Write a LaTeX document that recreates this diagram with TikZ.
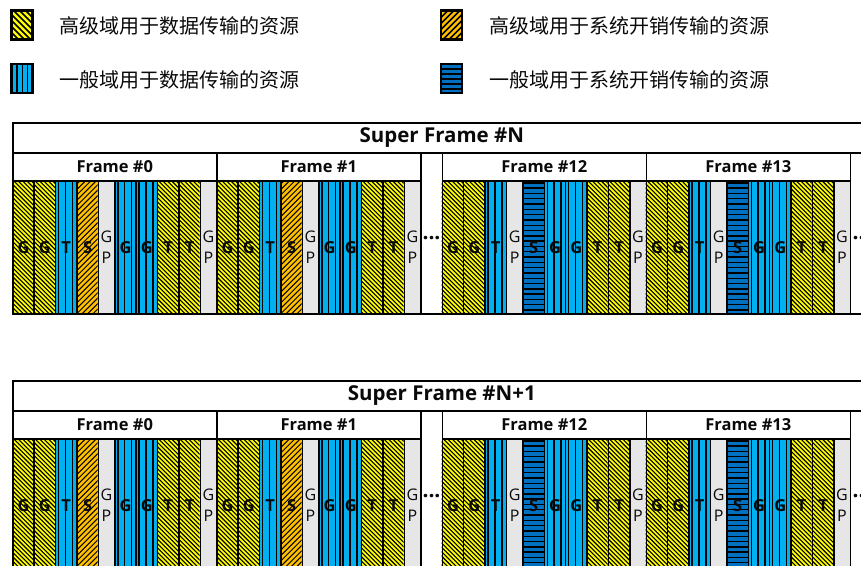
\documentclass[tikz,border=0pt]{standalone}
\usepackage{fontspec}
\setmainfont{Open Sans}
\newfontfamily\cjk{Noto Sans CJK SC}
\definecolor{cY}{HTML}{FFFF00}
\definecolor{cO}{HTML}{FFC000}
\definecolor{cB}{HTML}{00B0F0}
\definecolor{cD}{HTML}{0070C0}
\definecolor{cG}{HTML}{E6E6E6}
\definecolor{txt}{HTML}{0A0A0A}
\tikzset{
  cell/.style={draw=black, line width=1.6pt, rectangle, inner sep=0pt, anchor=north west, text=txt},
  slot/.style={cell, minimum height=133pt, font=\fontsize{16.5}{19}\selectfont\bfseries},
  ys/.style={slot}, os/.style={slot}, bs/.style={slot}, ds/.style={slot},
  gp/.style={slot, align=center, font=\fontsize{16}{21}\selectfont},
  stripe/.style={draw=black, line width=1.1pt},
  titlecell/.style={cell, fill=white, minimum width=858pt, minimum height=30pt, font=\fontsize{20.5}{24}\selectfont\bfseries},
  framecell/.style={cell, fill=white, minimum width=204pt, minimum height=28pt, font=\fontsize{16.5}{19}\selectfont\bfseries},
  gapcell/.style={cell, fill=white, minimum height=161pt},
  dotstxt/.style={inner sep=0pt, anchor=base, font=\fontsize{21}{24}\selectfont\bfseries, text=txt},
  legbox/.style={draw=black, line width=2.2pt, rectangle, inner sep=0pt, minimum width=21pt, minimum height=29pt},
  legtxt/.style={anchor=west, inner sep=0pt, font=\cjk\fontsize{20}{24}\selectfont, text=txt}
}
% slot backgrounds: #1 x, #2 y, #3 width
\newcommand\slotys[3]{%
  \fill[cY] (#1,{#2}) rectangle ++(#3,133);
  \begin{scope}
    \clip (#1,{#2}) rectangle ++(#3,133);
    \foreach \c in {-140,-135.6,...,25} \draw[stripe] ({#1+\c},{#2}) -- ++(136,136);
  \end{scope}}
\newcommand\slotos[3]{%
  \fill[cO] (#1,{#2}) rectangle ++(#3,133);
  \begin{scope}
    \clip (#1,{#2}) rectangle ++(#3,133);
    \foreach \c in {-140,-134.6,...,25} \draw[stripe, line width=1pt] ({#1+\c},{#2+134}) -- ++(136,-136);
  \end{scope}}
\newcommand\slotbs[3]{%
  \fill[cB] (#1,{#2}) rectangle ++(#3,133);
  \foreach \o in {3.8,10.7,17.6} \draw[stripe, line width=1.5pt] ({#1+\o},{#2}) -- ++(0,133);}
\newcommand\slotds[3]{%
  \fill[cD] (#1,{#2}) rectangle ++(#3,133);
  \foreach \o in {2.8,8.1,...,131} \draw[stripe, line width=1.4pt] (#1,{#2+\o}) -- ++(#3,0);}
\newcommand\slotgp[3]{%
  \fill[cG] (#1,{#2}) rectangle ++(#3,133);}
\newcommand\sw{21.375}
\newcommand\gw{16.5}
\newcommand\gptext{G\\P}
\def\listA{ys/G/\sw, ys/G/\sw, bs/T/\sw, os/S/\sw, gp/\gptext/\gw, bs/G/\sw, bs/G/\sw, ys/T/\sw, ys/T/\sw, gp/\gptext/\gw}
\def\listB{ys/G/\sw, ys/G/\sw, bs/T/\sw, gp/\gptext/\gw, ds/S/\sw, bs/G/\sw, bs/G/\sw, ys/T/\sw, ys/T/\sw, gp/\gptext/\gw}
\newcommand\myframe[4]{%
  \xdef\curx{#1}%
  \foreach \styp/\slab/\swid [count=\k] in #4 {
    \csname slot\styp\endcsname{\curx}{#2}{\swid}
    \node[\styp, minimum width=\swid pt] (#3s\k) at (\curx,{#2}) {\slab};
    \pgfmathsetmacro\nx{\curx+\swid}
    \xdef\curx{\nx}
  }%
}
\newcommand\superframe[3]{%
  \node[titlecell] (#3title) at (12,{122+#1}) {#2};
  \node[framecell] (#3f0) at (12,{152+#1}) {Frame \#0};
  \node[framecell] (#3f1) at (216,{152+#1}) {Frame \#1};
  \node[gapcell, minimum width=21.5pt] (#3gap) at (420,{152+#1}) {};
  \node[framecell] (#3f12) at (441.5,{152+#1}) {Frame \#12};
  \node[framecell] (#3f13) at (645.5,{152+#1}) {Frame \#13};
  \node[gapcell, minimum width=21pt] (#3rest) at (849.5,{152+#1}) {};
  \myframe{12}{180+#1}{#3a}{\listA}
  \myframe{216}{180+#1}{#3b}{\listA}
  \myframe{441.5}{180+#1}{#3c}{\listB}
  \myframe{645.5}{180+#1}{#3d}{\listB}
  \node[dotstxt] (#3dotsA) at (431.5,{239+#1}) {...};
  \node[dotstxt, anchor=base west] (#3dotsB) at (852.5,{239+#1}) {...};
}
\begin{document}
\begin{tikzpicture}[x=1pt,y=-1pt]
\clip (0,0) rectangle (861,565);
\fill[white] (0,0) rectangle (861,565);
% legend backgrounds
\fill[cY] (11.5,10.5) rectangle (32.5,39.5);
\begin{scope}\clip (11.5,10.5) rectangle (32.5,39.5);
  \foreach \c in {-40,-34,...,30} \draw[stripe, line width=1.5pt] ({11.5+\c},10.5) -- ++(32,32);
\end{scope}
\fill[cB] (11.5,64) rectangle (32.5,93);
\foreach \o in {5.5,11,16} \draw[stripe, line width=1.6pt] ({11.5+\o},64) -- ++(0,29);
\fill[cO] (441,10.5) rectangle (462,39.5);
\begin{scope}\clip (441,10.5) rectangle (462,39.5);
  \foreach \c in {-40,-34,...,30} \draw[stripe, line width=1.5pt] ({441+\c},39.5) -- ++(32,-32);
\end{scope}
\fill[cD] (441,64) rectangle (462,93);
\foreach \o in {5,10,...,26} \draw[stripe, line width=1.6pt] (441,{64+\o}) -- ++(21,0);
% legend boxes and texts
\node[legbox] (lg1) at (22,25) {};
\node[legtxt] (lt1) at (59,26) {高级域用于数据传输的资源};
\node[legbox] (lg2) at (22,78.5) {};
\node[legtxt] (lt2) at (59,80) {一般域用于数据传输的资源};
\node[legbox] (lg3) at (451.5,25) {};
\node[legtxt] (lt3) at (489,26) {高级域用于系统开销传输的资源};
\node[legbox] (lg4) at (451.5,78.5) {};
\node[legtxt] (lt4) at (489,80) {一般域用于系统开销传输的资源};
% super frames
\superframe{0}{Super Frame \#N}{u}
\superframe{258}{Super Frame \#N+1}{v}
\end{tikzpicture}
\end{document}
